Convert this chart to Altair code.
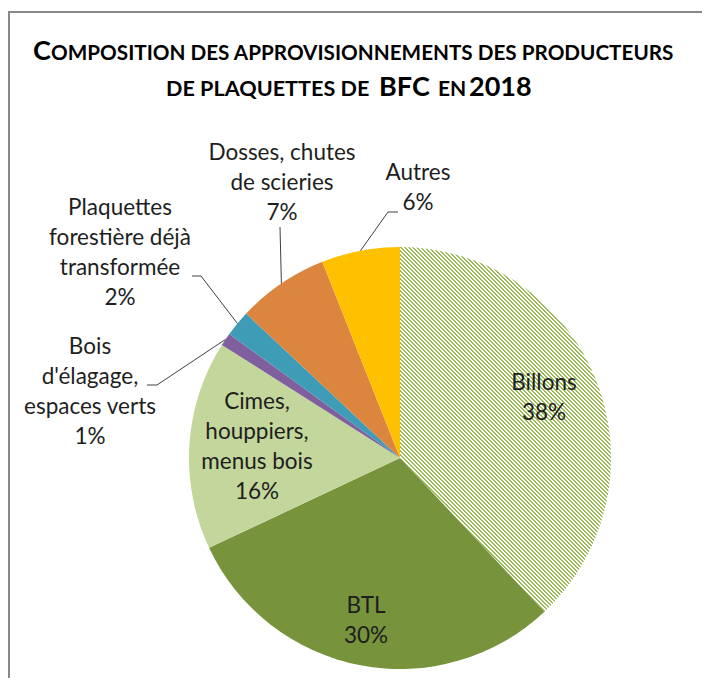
import math
import altair as alt
import pandas as pd

# ---------------- data ----------------
categories = ["Billons", "BTL", "Cimes, houppiers, menus bois",
              "Bois d'élagage, espaces verts",
              "Plaquettes forestière déjà transformée",
              "Dosses, chutes de scieries", "Autres"]
values = [38, 30, 16, 1, 2, 7, 6]
label_texts = ["Billons\n38%", "BTL\n30%", "Cimes,\nhouppiers,\nmenus bois\n16%",
               "Bois\nd'élagage,\nespaces verts\n1%",
               "Plaquettes\nforestière  déjà\ntransformée\n2%",
               "Dosses, chutes\nde scieries\n7%", "Autres\n6%"]
colors = ["#ffffff", "#77933c", "#c3d69b", "#7f5f9e", "#3f9cb6", "#dc853f", "#ffc000"]

# title pieces (small caps imitation): text, size
title_line1 = [("C", 27), ("OMPOSITION DES APPROVISIONNEMENTS DES PRODUCTEURS", 20.7)]
title_line2 = [("DE PLAQUETTES DE", 21.6), ("BFC", 27), ("EN", 21), ("2018", 27)]

# ---------------- layout (chart coordinates) ----------------
W, H = 694, 670
CX, CY, R = 392, 450, 211
title_x1 = [25, 43]
title_x2 = [158, 371, 430, 461]
title_y = [52, 88]
# label positions: centre x, first line y
label_pos = [(536, 375), (358, 598), (249, 394), (82, 339), (112, 200), (274, 145), (410, 165)]
# leader lines: label-side points (elbow) for labels drawn outside
leader_pts = {
    "Autres": [(390, 204), (380, 204)],
    "Dosses, chutes de scieries": [(272, 219)],
    "Plaquettes forestière déjà transformée": [(184, 268), (193, 268)],
    "Bois d'élagage, espaces verts": [(139, 377), (149, 377)],
}

df = pd.DataFrame({"cat": categories, "value": values, "idx": list(range(len(values))),
                   "label": label_texts,
                   "lx": [p[0] for p in label_pos], "ly": [p[1] for p in label_pos]})

# edge points at mid angle of each slice
cum = 0
edge = {}
start_end = {}
for c, v in zip(categories, values):
    a0 = cum / 100 * 2 * math.pi
    cum += v
    a1 = cum / 100 * 2 * math.pi
    am = (a0 + a1) / 2
    edge[c] = (CX + R * math.sin(am), CY - R * math.cos(am))
    start_end[c] = (a0, a1)

rows = []
for c, pts in leader_pts.items():
    allp = pts + [edge[c]]
    for k, (x, y) in enumerate(allp):
        rows.append({"cat": c, "k": k, "x": x, "y": y})
lines_df = pd.DataFrame(rows)

# hatch gradient for Billons slice (45 degree stripes, 4px horizontal period)
a0, a1 = start_end["Billons"]
pts = [(CX, CY)]
for t in range(0, 721):
    a = a0 + (a1 - a0) * t / 720
    pts.append((CX + R * math.sin(a), CY - R * math.cos(a)))
xs_ = [p[0] for p in pts]
ys_ = [p[1] for p in pts]
bw, bh = max(xs_) - min(xs_), max(ys_) - min(ys_)
ux, uy = bw / bh, -1.0
k = (ux * 1 + uy * -1) / (ux * ux + uy * uy)
L = (bw + bh) / math.sqrt(2)
period = 4 / math.sqrt(2)
n = math.ceil(L / period)
s_ = n * period / L
gx2, gy2 = ux * k * s_, 1 + uy * k * s_
stops = []
green = "#9bbb59"
frac = 0.5
for i in range(n):
    s, m, e = i / n, (i + frac) / n, (i + 1) / n
    stops += [{"offset": round(s, 6), "color": green}, {"offset": round(m, 6), "color": green},
              {"offset": round(m, 6), "color": "#ffffff"}, {"offset": round(e, 6), "color": "#ffffff"}]
grad = {"gradient": "linear", "x1": 0, "y1": 1, "x2": round(gx2, 6), "y2": round(gy2, 6), "stops": stops}

xs = alt.Scale(domain=[0, W], range=[0, W], nice=False, zero=False)
ys = alt.Scale(domain=[0, H], range=[0, H], nice=False, zero=False)

pie = alt.Chart(df).mark_arc(radius=R, stroke=None).encode(
    theta=alt.Theta("value:Q", stack=True),
    order=alt.Order("idx:Q"),
    color=alt.condition("datum.cat == 'Billons'", alt.value(grad),
                        alt.Color("cat:N", scale=alt.Scale(domain=categories, range=colors), legend=None)),
    x=alt.value(CX), y=alt.value(CY),
)

leaders = alt.Chart(lines_df).mark_line(color="#404040", strokeWidth=1).encode(
    x=alt.X("x:Q", scale=xs, axis=None),
    y=alt.Y("y:Q", scale=ys, axis=None),
    detail="cat:N", order="k:Q",
)

labels = alt.Chart(df).mark_text(lineBreak="\n", lineHeight=30, fontSize=22.5, font="Lato",
                                 color="#1e1e1e", align="center", baseline="middle").encode(
    x=alt.X("lx:Q", scale=xs, axis=None),
    y=alt.Y("ly:Q", scale=ys, axis=None),
    text="label:N",
)

trows = []
for (t, s), x in zip(title_line1, title_x1):
    trows.append({"t": t, "fs": s, "x": x, "y": title_y[0]})
for (t, s), x in zip(title_line2, title_x2):
    trows.append({"t": t, "fs": s, "x": x, "y": title_y[1]})
title_df = pd.DataFrame(trows)
title = alt.Chart(title_df).mark_text(font="Lato", fontWeight="bold", color="#000000",
                                      align="left", baseline="alphabetic").encode(
    x=alt.X("x:Q", scale=xs, axis=None),
    y=alt.Y("y:Q", scale=ys, axis=None),
    size=alt.Size("fs:Q", scale=None),
    text="t:N",
)

frame = alt.Chart(pd.DataFrame({"a": [0]})).mark_rect(filled=False, stroke="#878787", strokeWidth=2).encode(
    x=alt.value(1), y=alt.value(4), x2=alt.value(W + 30), y2=alt.value(H + 30)
)

chart = alt.layer(frame, pie, leaders, labels, title).properties(
    width=W, height=H, autosize=alt.AutoSizeParams(type="none"), padding=0,
    background="#ffffff"
).configure_view(stroke=None)

chart.save("out.html", embed_options={"renderer": "svg", "actions": False})
